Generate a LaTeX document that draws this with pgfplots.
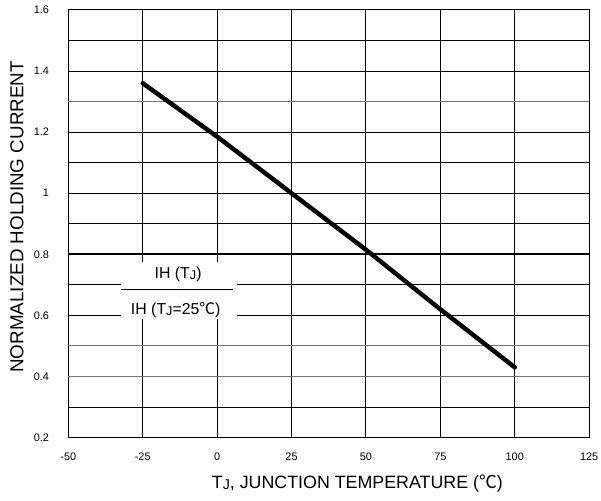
\documentclass[border=0pt]{standalone}
\usepackage{fontspec}
\setmainfont{Liberation Sans}
\newfontfamily\cjk{Noto Sans CJK SC}
\usepackage{pgfplots}
\pgfplotsset{compat=1.18}

\newcommand{\degC}{{\cjk ℃}}
\newcommand{\sub}[1]{\raisebox{-0.15ex}{\scalebox{0.8}{#1}}}

\begin{document}
\begin{tikzpicture}
\begin{axis}[
  scale only axis, width=526pt, height=432pt,
  xmin=-50, xmax=125, ymin=0.2, ymax=1.6,
  xtick={-50,-25,0,25,50,75,100,125},
  ytick={0.2,0.6,0.8,1,1.2,1.4,1.6},
  minor ytick={0.3,0.7,0.9,1.1,1.5},
  grid=both,
  major grid style={black, line width=0.9pt},
  minor grid style={black, line width=0.9pt},
  extra y ticks={0.4,0.5,1.3},
  extra y tick labels={0.4,,},
  extra tick style={major grid style={black!55, line width=1pt}},
  axis line style={black, line width=1.2pt},
  major tick length=0pt, minor tick length=0pt,
  /pgf/number format/assume math mode=true,
  tick label style={font=\fontsize{11}{13}\selectfont},
  xticklabel style={yshift=-12pt},
  yticklabel style={xshift=-16pt},
  xlabel={T\sub{J}, JUNCTION TEMPERATURE (\degC)},
  ylabel={NORMALIZED HOLDING CURRENT},
  xlabel style={font=\fontsize{18}{20}\selectfont,
    at={(axis description cs:0.555,-0.1065)}, anchor=center},
  ylabel style={font=\fontsize{19}{21}\selectfont,
    at={(axis description cs:-0.0989,0.516)}, anchor=center},
]
\addplot[black, line width=2pt, forget plot] coordinates {(-50,0.8) (125,0.8)};
\addplot[black, line width=4.5pt, line cap=round] coordinates {
  (-25,1.36) (0,1.185) (25,1.0) (50,0.815) (75,0.62) (100,0.43)
};
\node[fill=white, minimum width=117pt, minimum height=57pt, inner sep=0pt]
  at (axis cs:-12.9,0.681) {};
\draw[black, line width=1.2pt] (axis cs:-32.4,0.686) -- (axis cs:5.2,0.686);
\node[font=\fontsize{16}{18}\selectfont] at (axis cs:-13.1,0.735) {IH (T\sub{J})};
\node[font=\fontsize{16}{18}\selectfont] at (axis cs:-13.9,0.618) {IH (T\sub{J}=25\degC)};
\coordinate (bl) at (rel axis cs:-0.1312,-0.1481);
\coordinate (tr) at (rel axis cs:1.0228,1.0231);
\end{axis}
\pgfresetboundingbox
\useasboundingbox (bl) rectangle (tr);
\end{tikzpicture}
\end{document}
